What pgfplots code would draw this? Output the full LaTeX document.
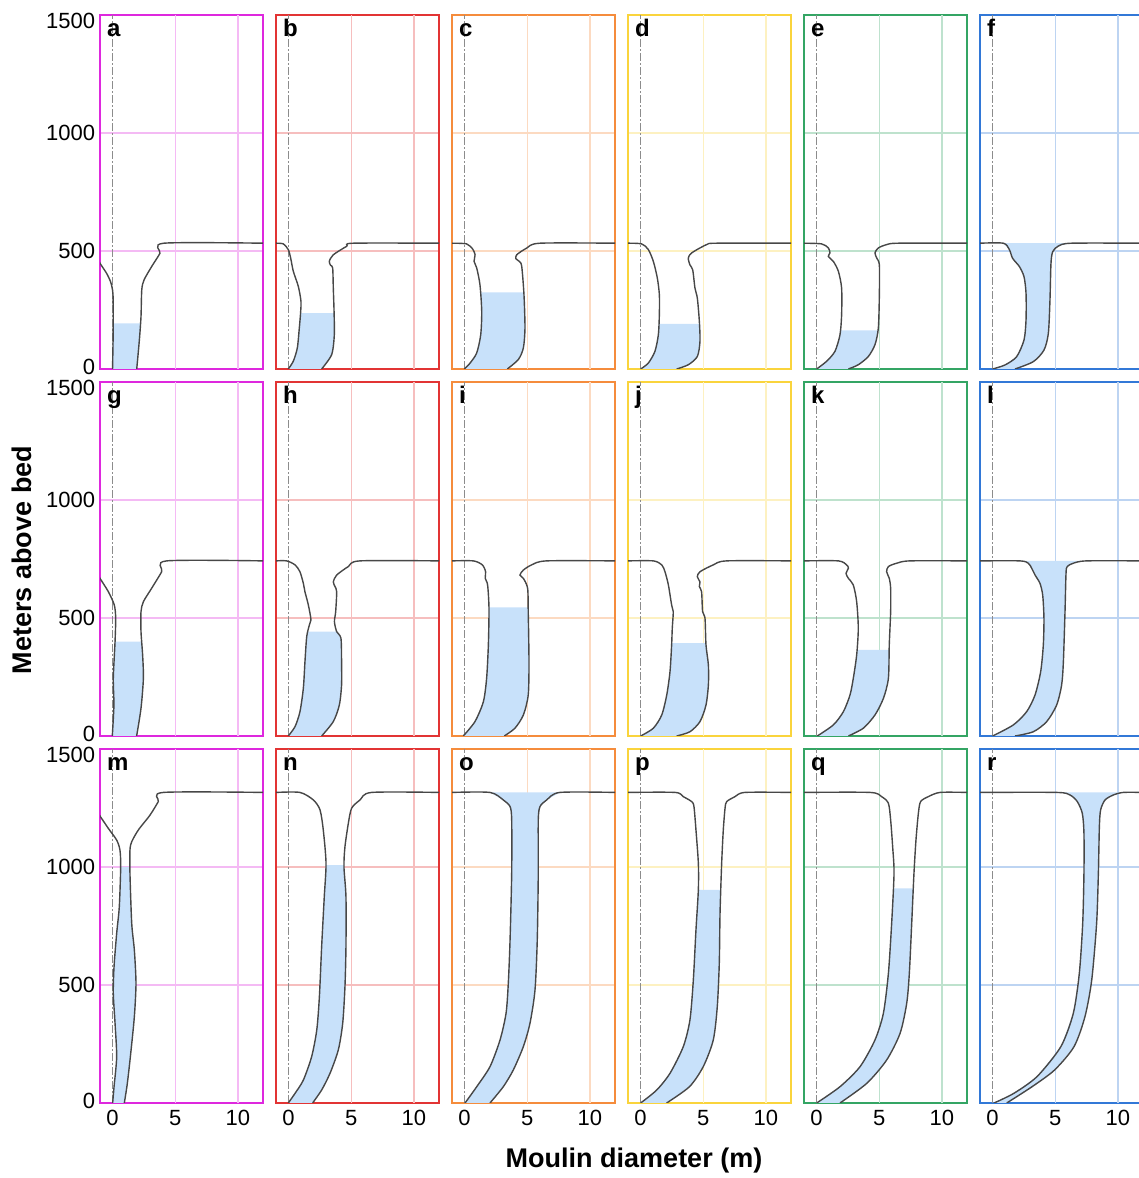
\documentclass[border=0pt]{standalone}
\usepackage{fontspec}
\setmainfont{Liberation Sans}
\usepackage{pgfplots}
\pgfplotsset{compat=1.18}
\definecolor{cM}{RGB}{222,40,222}
\definecolor{cR}{RGB}{226,52,52}
\definecolor{cO}{RGB}{245,140,60}
\definecolor{cY}{RGB}{250,212,60}
\definecolor{cG}{RGB}{52,165,100}
\definecolor{cB}{RGB}{50,120,215}
\definecolor{water}{RGB}{200,225,250}
\pgfplotsset{
  panel/.style={
    scale only axis, width=81.5pt, height=177pt, anchor=south west,
    xmin=-1, xmax=12, ymin=0, ymax=1500,
    xtick={0,5,10}, ytick={0,500,1000,1500},
    major tick length=0pt,
    xmajorgrids=false, ymajorgrids=true,
    axis line style={draw=#1, line width=0.9pt},
    major grid style={draw=#1!32, line width=0.6pt},
    ticklabel style={font=\fontsize{11}{12}\selectfont},
    yticklabel style={inner sep=0pt, xshift=-2.3pt},
    /pgf/number format/assume math mode=true,
    xticklabels={}, yticklabels={},
    clip mode=individual,
    execute at begin axis={\draw[#1!32, line width=0.6pt] (axis cs:5,0) -- (axis cs:5,1500) (axis cs:10,0) -- (axis cs:10,1500);},
  },
  leftcol/.style={yticklabels={{},500,1000,{}}},
  bottomrow/.style={xticklabels={0,5,10}},
  wall/.style={draw=black!72, line width=0.7pt, smooth, tension=0.45, mark=none},
  wat/.style={fill=water, draw=none, mark=none},
  dd/.style={draw=black!45, line width=0.5pt, dash pattern=on 4pt off 1.2pt on 0.6pt off 1.2pt, mark=none},
}
\newcommand{\plab}[1]{\node[anchor=base west, inner sep=0pt, font=\bfseries\fontsize{12}{12}\selectfont, xshift=3.3pt, yshift=-10.8pt] at (rel axis cs:0,1) {#1};}
\newcommand{\topl}{\node[anchor=east, inner sep=0pt, font=\fontsize{11}{12}\selectfont, xshift=-2.3pt, yshift=-3pt] at (rel axis cs:0,1) {1500};
  \node[anchor=east, inner sep=0pt, font=\fontsize{11}{12}\selectfont, xshift=-2.3pt, yshift=1pt] at (rel axis cs:0,0) {0};}
\begin{document}
\begin{tikzpicture}
\useasboundingbox (0,0) rectangle (569.5pt,589pt);
\clip (0,0) rectangle (569.5pt,589pt);
% ---------------- Row 1 ----------------
\begin{axis}[panel=cM, at={(50pt,404.5pt)}, leftcol]
\addplot[dd] coordinates {(0,0) (0,1500)};
\addplot[wat] coordinates {(0.0,0) (0.05,151) (0.05,193) (2.23,193) (2.14,123) (1.93,0)} -- cycle;
\addplot[wall] coordinates {(-1.1,460) (-1.0,448) (-0.47,405) (-0.16,370) (0.0,335) (0.05,292) (0.05,151) (0.0,0)};
\addplot[wall] coordinates {(12,533) (4.10,533) (3.78,490) (3.12,434) (2.51,377) (2.33,335) (2.27,222) (2.14,123) (1.93,0)};
\plab{a}\topl
\end{axis}
\begin{axis}[panel=cR, at={(138pt,404.5pt)}]
\addplot[dd] coordinates {(0,0) (0,1500)};
\addplot[wat] coordinates {(-0.02,0) (0.38,33) (0.70,89) (0.86,174) (0.96,237) (3.63,237) (3.65,145) (3.44,61) (2.64,0)} -- cycle;
\addplot[wall] coordinates {(-1,533) (-0.42,530) (-0.02,506) (0.17,470) (0.38,414) (0.78,350) (0.99,287) (0.96,237) (0.86,174) (0.70,89) (0.38,33) (-0.02,0)};
\addplot[wall] coordinates {(12,533) (5.17,533) (4.64,520) (3.57,484) (3.25,456) (3.36,439) (3.52,428) (3.57,343) (3.63,244) (3.65,145) (3.44,61) (2.64,0)};
\plab{b}
\end{axis}
\begin{axis}[panel=cO, at={(226pt,404.5pt)}]
\addplot[dd] coordinates {(0,0) (0,1500)};
\addplot[wat] coordinates {(-0.02,0) (0.44,25) (0.97,68) (1.29,145) (1.37,244) (1.27,325) (4.73,325) (4.74,315) (4.82,174) (4.69,89) (4.29,40) (3.41,0)} -- cycle;
\addplot[wall] coordinates {(-1,533) (0.17,530) (0.65,508) (0.84,484) (0.76,456) (0.97,428) (1.23,357) (1.37,244) (1.29,145) (0.97,68) (0.44,25) (-0.02,0)};
\addplot[wall] coordinates {(12,533) (6.02,533) (4.95,512) (4.16,484) (4.10,467) (4.37,456) (4.56,435) (4.74,315) (4.82,174) (4.69,89) (4.29,40) (3.41,0)};
\plab{c}
\end{axis}
\begin{axis}[panel=cY, at={(314pt,404.5pt)}]
\addplot[dd] coordinates {(0,0) (0,1500)};
\addplot[wat] coordinates {(0.01,0) (0.62,25) (1.15,75) (1.42,145) (1.46,191) (4.70,191) (4.74,117) (4.53,53) (3.81,18) (2.88,0)} -- cycle;
\addplot[wall] coordinates {(-1,533) (0.09,530) (0.62,506) (1.02,456) (1.34,385) (1.50,315) (1.50,230) (1.42,145) (1.15,75) (0.62,25) (0.01,0)};
\addplot[wall] coordinates {(12,533) (6.07,533) (5.27,527) (4.08,492) (3.81,470) (3.94,441) (4.16,420) (4.34,343) (4.53,300) (4.69,202) (4.74,117) (4.53,53) (3.81,18) (2.88,0)};
\plab{d}
\end{axis}
\begin{axis}[panel=cG, at={(402pt,404.5pt)}]
\addplot[dd] coordinates {(0,0) (0,1500)};
\addplot[wat] coordinates {(0.01,0) (0.81,33) (1.47,75) (1.87,145) (1.90,164) (4.89,164) (4.66,103) (4.13,53) (3.33,18) (2.54,0)} -- cycle;
\addplot[wall] coordinates {(-1,533) (0.41,530) (0.94,513) (1.07,492) (0.94,477) (1.34,456) (1.74,414) (2.00,343) (2.00,230) (1.87,145) (1.47,75) (0.81,33) (0.01,0)};
\addplot[wall] coordinates {(12,533) (6.52,533) (5.59,527) (4.93,513) (4.66,492) (4.80,470) (5.01,441) (5.01,315) (4.93,174) (4.66,103) (4.13,53) (3.33,18) (2.54,0)};
\plab{e}
\end{axis}
\begin{axis}[panel=cB, at={(490pt,404.5pt)}]
\addplot[dd] coordinates {(0,0) (0,1500)};
\addplot[wat] coordinates {(0.01,0) (0.99,17) (1.92,52) (2.51,123) (2.67,208) (2.67,321) (2.51,391) (2.14,434) (1.60,469) (1.34,506) (0.86,533) (6.2,533) (5.25,521) (4.80,497) (4.66,447) (4.58,292) (4.45,151) (4.10,80) (3.25,31) (1.79,0)} -- cycle;
\addplot[wall] coordinates {(-1,533) (0.86,533) (1.34,506) (1.60,469) (2.14,434) (2.51,391) (2.67,321) (2.67,208) (2.51,123) (1.92,52) (0.99,17) (0.01,0)};
\addplot[wall] coordinates {(12,533) (6.31,533) (5.25,521) (4.80,497) (4.66,447) (4.58,292) (4.45,151) (4.10,80) (3.25,31) (1.79,0)};
\plab{f}
\end{axis}
% ---------------- Row 2 ----------------
\begin{axis}[panel=cM, at={(50pt,221pt)}, leftcol]
\addplot[dd] coordinates {(0,0) (0,1500)};
\addplot[wat] coordinates {(-0.02,0) (0.11,131) (0.06,244) (0.20,400) (2.32,400) (2.40,343) (2.46,244) (2.27,117) (1.92,0)} -- cycle;
\addplot[wall] coordinates {(-1.1,680) (-1.0,668) (-0.34,612) (0.14,555) (0.25,499) (0.20,400) (0.06,244) (0.11,131) (-0.02,0)};
\addplot[wall] coordinates {(12,742) (4.32,742) (3.92,696) (3.12,626) (2.46,569) (2.27,527) (2.27,442) (2.40,343) (2.46,244) (2.27,117) (1.92,0)};
\plab{g}\topl
\end{axis}
\begin{axis}[panel=cR, at={(138pt,221pt)}]
\addplot[dd] coordinates {(0,0) (0,1500)};
\addplot[wat] coordinates {(-0.02,0) (0.52,40) (0.91,103) (1.18,202) (1.31,315) (1.45,421) (1.54,442) (3.84,442) (4.18,414) (4.23,315) (4.23,216) (4.05,131) (3.57,61) (2.64,0)} -- cycle;
\addplot[wall] coordinates {(-1,742) (-0.15,742) (0.52,725) (0.91,696) (1.18,647) (1.31,611) (1.58,555) (1.79,492) (1.66,470) (1.45,421) (1.31,315) (1.18,202) (0.91,103) (0.52,40) (-0.02,0)};
\addplot[wall] coordinates {(12,742) (5.70,742) (4.77,718) (3.84,682) (3.57,653) (3.71,633) (3.84,611) (3.76,527) (3.66,484) (3.84,442) (4.18,414) (4.23,315) (4.23,216) (4.05,131) (3.57,61) (2.64,0)};
\plab{h}
\end{axis}
\begin{axis}[panel=cO, at={(226pt,221pt)}]
\addplot[dd] coordinates {(0,0) (0,1500)};
\addplot[wat] coordinates {(-0.10,0) (0.83,61) (1.50,145) (1.76,244) (1.90,386) (1.95,545) (5.07,545) (5.08,527) (5.14,315) (5.08,174) (4.69,89) (4.02,33) (3.17,0)} -- cycle;
\addplot[wall] coordinates {(-1,742) (0.70,742) (1.42,725) (1.68,696) (1.65,668) (1.84,640) (1.95,541) (1.90,386) (1.76,244) (1.50,145) (0.83,61) (-0.10,0)};
\addplot[wall] coordinates {(12,742) (6.55,742) (5.35,725) (4.69,703) (4.42,682) (4.69,668) (5.03,626) (5.08,527) (5.14,315) (5.08,174) (4.69,89) (4.02,33) (3.17,0)};
\plab{i}
\end{axis}
\begin{axis}[panel=cY, at={(314pt,221pt)}]
\addplot[dd] coordinates {(0,0) (0,1500)};
\addplot[wat] coordinates {(0.01,0) (1.02,33) (1.69,89) (2.09,174) (2.35,273) (2.48,393) (5.22,393) (5.22,386) (5.41,301) (5.41,216) (5.22,131) (4.74,61) (3.94,18) (2.88,0)} -- cycle;
\addplot[wall] coordinates {(-1,742) (1.02,742) (1.69,725) (1.95,696) (2.22,640) (2.48,555) (2.61,527) (2.53,456) (2.48,386) (2.35,273) (2.09,174) (1.69,89) (1.02,33) (0.01,0)};
\addplot[wall] coordinates {(12,742) (6.87,742) (5.80,725) (4.74,696) (4.53,675) (4.74,653) (4.69,633) (4.87,611) (4.95,527) (5.14,499) (5.22,386) (5.41,301) (5.41,216) (5.22,131) (4.74,61) (3.94,18) (2.88,0)};
\plab{j}
\end{axis}
\begin{axis}[panel=cG, at={(402pt,221pt)}]
\addplot[dd] coordinates {(0,0) (0,1500)};
\addplot[wat] coordinates {(0.06,0) (1.34,47) (2.14,103) (2.67,174) (2.93,244) (3.20,343) (3.22,365) (5.79,365) (5.73,244) (5.33,159) (4.66,89) (3.73,33) (2.54,0)} -- cycle;
\addplot[wall] coordinates {(-1,742) (1.74,742) (2.40,725) (2.54,711) (2.35,689) (2.54,668) (2.93,640) (3.20,569) (3.33,456) (3.20,343) (2.93,244) (2.67,174) (2.14,103) (1.34,47) (0.06,0)};
\addplot[wall] coordinates {(12,742) (7.45,742) (6.39,732) (5.73,718) (5.59,696) (5.80,668) (5.91,626) (5.91,527) (5.80,386) (5.73,244) (5.33,159) (4.66,89) (3.73,33) (2.54,0)};
\plab{k}
\end{axis}
\begin{axis}[panel=cB, at={(490pt,221pt)}]
\addplot[dd] coordinates {(0,0) (0,1500)};
\addplot[wat] coordinates {(0.01,0) (1.66,47) (2.72,103) (3.39,174) (3.84,273) (4.05,386) (4.10,499) (4.00,597) (3.78,647) (3.39,682) (3.12,711) (2.85,732) (2.5,742) (7.0,742) (6.44,732) (5.96,718) (5.86,689) (5.78,527) (5.65,315) (5.51,216) (5.11,131) (4.32,61) (3.25,18) (1.79,0)} -- cycle;
\addplot[wall] coordinates {(-1,742) (2.19,742) (2.85,732) (3.12,711) (3.39,682) (3.78,647) (4.00,597) (4.10,499) (4.05,386) (3.84,273) (3.39,174) (2.72,103) (1.66,47) (0.01,0)};
\addplot[wall] coordinates {(12,742) (7.51,742) (6.44,732) (5.96,718) (5.86,689) (5.78,527) (5.65,315) (5.51,216) (5.11,131) (4.32,61) (3.25,18) (1.79,0)};
\plab{l}
\end{axis}
% ---------------- Row 3 ----------------
\begin{axis}[panel=cM, at={(50pt,37.5pt)}, leftcol, bottomrow]
\addplot[dd] coordinates {(0,0) (0,1500)};
\addplot[wat] coordinates {(0.01,0) (0.12,69) (0.33,196) (0.20,338) (0.06,465) (0.12,578) (0.33,719) (0.54,832) (0.65,1001) (1.39,1001) (1.39,973) (1.53,761) (1.74,648) (1.87,507) (1.74,366) (1.45,210) (1.18,83) (0.94,0)} -- cycle;
\addplot[wall] coordinates {(-1.1,1225) (-1.0,1216) (-0.34,1164) (0.33,1114) (0.59,1072) (0.65,1001) (0.54,832) (0.33,719) (0.12,578) (0.06,465) (0.20,338) (0.33,196) (0.12,69) (0.01,0)};
\addplot[wall] coordinates {(12,1316) (4.05,1316) (3.65,1277) (2.99,1220) (2.06,1157) (1.53,1107) (1.39,1072) (1.39,973) (1.53,761) (1.74,648) (1.87,507) (1.74,366) (1.45,210) (1.18,83) (0.94,0)};
\plab{m}\topl
\end{axis}
\begin{axis}[panel=cR, at={(138pt,37.5pt)}, bottomrow]
\addplot[dd] coordinates {(0,0) (0,1500)};
\addplot[wat] coordinates {(-0.02,0) (0.52,41) (1.18,97) (1.84,196) (2.25,309) (2.46,450) (2.64,662) (2.85,874) (2.98,1008) (4.42,1008) (4.58,874) (4.58,662) (4.50,493) (4.32,338) (3.97,225) (3.31,126) (2.64,55) (1.92,0)} -- cycle;
\addplot[wall] coordinates {(-1,1316) (0.91,1316) (1.98,1284) (2.51,1242) (2.77,1157) (2.99,1016) (2.85,874) (2.64,662) (2.46,450) (2.25,309) (1.84,196) (1.18,97) (0.52,41) (-0.02,0)};
\addplot[wall] coordinates {(12,1316) (6.63,1316) (5.70,1284) (5.03,1249) (4.77,1185) (4.50,1086) (4.42,1001) (4.58,874) (4.58,662) (4.50,493) (4.32,338) (3.97,225) (3.31,126) (2.64,55) (1.92,0)};
\plab{n}
\end{axis}
\begin{axis}[panel=cO, at={(226pt,37.5pt)}, bottomrow]
\addplot[dd] coordinates {(0,0) (0,1500)};
\addplot[wat] coordinates {(0.04,0) (0.97,69) (2.03,154) (2.83,267) (3.31,380) (3.49,507) (3.63,691) (3.76,973) (3.76,1199) (3.63,1256) (3.09,1284) (2.03,1316) (7.61,1316) (6.55,1284) (6.02,1256) (5.88,1199) (5.88,973) (5.80,691) (5.62,479) (5.22,338) (4.69,239) (3.89,140) (3.09,69) (2.03,0)} -- cycle;
\addplot[wall] coordinates {(-1,1316) (2.03,1316) (3.09,1284) (3.63,1256) (3.76,1199) (3.76,973) (3.63,691) (3.49,507) (3.31,380) (2.83,267) (2.03,154) (0.97,69) (0.04,0)};
\addplot[wall] coordinates {(12,1316) (7.61,1316) (6.55,1284) (6.02,1256) (5.88,1199) (5.88,973) (5.80,691) (5.62,479) (5.22,338) (4.69,239) (3.89,140) (3.09,69) (2.03,0)};
\plab{o}
\end{axis}
\begin{axis}[panel=cY, at={(314pt,37.5pt)}, bottomrow]
\addplot[dd] coordinates {(0,0) (0,1500)};
\addplot[wat] coordinates {(0.01,0) (1.29,55) (2.35,126) (3.41,239) (3.94,352) (4.21,521) (4.42,733) (4.61,903) (6.40,903) (6.34,804) (6.28,592) (6.12,408) (5.80,267) (5.00,154) (3.90,69) (2.08,0)} -- cycle;
\addplot[wall] coordinates {(-1,1316) (2.75,1316) (3.41,1298) (4.08,1277) (4.26,1256) (4.42,1157) (4.61,1016) (4.61,903) (4.42,733) (4.21,521) (3.94,352) (3.41,239) (2.35,126) (1.29,55) (0.01,0)};
\addplot[wall] coordinates {(12,1316) (8.33,1316) (7.53,1298) (6.87,1277) (6.74,1249) (6.60,1157) (6.47,1016) (6.34,804) (6.28,592) (6.12,408) (5.80,267) (5.00,154) (3.90,69) (2.08,0)};
\plab{p}
\end{axis}
\begin{axis}[panel=cG, at={(402pt,37.5pt)}, bottomrow]
\addplot[dd] coordinates {(0,0) (0,1500)};
\addplot[wat] coordinates {(0.01,0) (1.87,69) (3.47,154) (4.66,267) (5.33,380) (5.73,549) (5.99,761) (6.12,909) (7.72,909) (7.59,761) (7.40,549) (7.19,422) (6.66,295) (5.59,182) (4.00,83) (1.87,0)} -- cycle;
\addplot[wall] coordinates {(-1,1316) (4.26,1316) (5.19,1298) (5.73,1270) (5.91,1199) (6.07,1086) (6.18,973) (5.99,761) (5.73,549) (5.33,380) (4.66,267) (3.47,154) (1.87,69) (0.01,0)};
\addplot[wall] coordinates {(12,1316) (9.85,1316) (8.91,1298) (8.30,1277) (8.12,1227) (7.93,1114) (7.77,973) (7.59,761) (7.40,549) (7.19,422) (6.66,295) (5.59,182) (4.00,83) (1.87,0)};
\plab{q}
\end{axis}
\begin{axis}[panel=cB, at={(490pt,37.5pt)}, bottomrow]
\addplot[dd] coordinates {(0,0) (0,1500)};
\addplot[wat] coordinates {(0.12,0) (1.70,41) (3.55,112) (5.45,239) (6.44,380) (6.92,549) (7.19,761) (7.29,973) (7.29,1143) (7.16,1227) (6.76,1277) (6.18,1305) (5.6,1316) (10.2,1316) (9.63,1305) (8.97,1284) (8.62,1242) (8.52,1171) (8.44,973) (8.30,761) (7.91,521) (7.37,366) (6.50,239) (4.95,140) (3.15,69) (1.13,0)} -- cycle;
\addplot[wall] coordinates {(-1,1316) (5.11,1316) (6.18,1305) (6.76,1277) (7.16,1227) (7.29,1143) (7.29,973) (7.19,761) (6.92,549) (6.44,380) (5.45,239) (3.55,112) (1.70,41) (0.12,0)};
\addplot[wall] coordinates {(12,1316) (10.43,1316) (9.63,1305) (8.97,1284) (8.62,1242) (8.52,1171) (8.44,973) (8.30,761) (7.91,521) (7.37,366) (6.50,239) (4.95,140) (3.15,69) (1.13,0)};
\plab{r}
\end{axis}
% axis titles
\node[rotate=90, font=\bfseries\fontsize{13.5}{14}\selectfont] at (11pt,309pt) {Meters above bed};
\node[font=\bfseries\fontsize{13.5}{14}\selectfont] at (317pt,8.5pt) {Moulin diameter (m)};
\end{tikzpicture}
\end{document}
